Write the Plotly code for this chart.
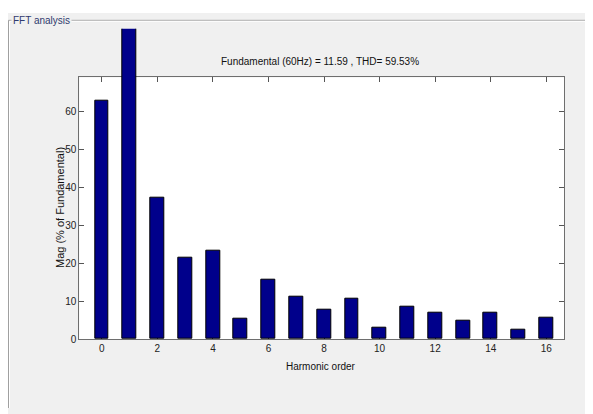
import plotly.graph_objects as go

# ---- data ----
harmonic_order = list(range(17))
mag_pct = [62.7, 100.0, 37.3, 21.5, 23.3, 5.3, 15.6, 11.2, 7.8, 10.7,
           3.0, 8.5, 7.0, 4.7, 7.0, 2.4, 5.7]
x_tick_vals = [0, 2, 4, 6, 8, 10, 12, 14, 16]
y_tick_vals = [0, 10, 20, 30, 40, 50, 60]
title_text = "Fundamental (60Hz) = 11.59 , THD= 59.53%"
panel_title = "FFT analysis"

# page has an 8px body margin: figure is sized/offset to compensate
OFF = 8
W, H = 593 - OFF, 414 - OFF
NARROW = "Liberation Sans Narrow, Arial Narrow, Liberation Sans, Arial, sans-serif"
REG = "Arial, Liberation Sans, sans-serif"
PANEL = "#f0f0f0"


def px(x):
    return (x - OFF) / W


def py(y):
    return 1 - (y - OFF) / H


# axes geometry (screen pixels)
ax_left, ax_right = 79.3, 564.3
ax_top, ax_bottom = 78.5, 344.0
clip_top = 29.0
y_max = 68.87

xd = [px(ax_left), px(ax_right)]
yd = [py(ax_bottom), py(ax_top)]
y2d = [yd[0], py(clip_top)]
y2_max = y_max * (y2d[1] - y2d[0]) / (yd[1] - yd[0])

fig = go.Figure()
# empty trace so the main (boxed) axes subplot exists
fig.add_trace(go.Scatter(x=[], y=[], xaxis="x", yaxis="y", showlegend=False,
                         hoverinfo="skip"))
fig.add_trace(go.Bar(
    x=harmonic_order, y=mag_pct, width=0.5,
    marker=dict(color="#00008b", line=dict(color="#000000", width=1)),
    xaxis="x", yaxis="y2", showlegend=False,
))

axis_common = dict(
    showline=True, linecolor="#6e6e6e", linewidth=1, mirror="ticks",
    ticks="inside", ticklen=5, tickcolor="#555555", tickwidth=1,
    showgrid=False, zeroline=False,
    tickfont=dict(family=NARROW, size=10, color="#222222"),
)

fig.update_layout(
    width=W, height=H,
    margin=dict(l=0, r=0, t=0, b=0),
    paper_bgcolor=PANEL, plot_bgcolor="rgba(0,0,0,0)",
    xaxis=dict(domain=xd, range=[-0.81, 16.65], anchor="y",
               tickmode="array", tickvals=x_tick_vals, **axis_common),
    yaxis=dict(domain=yd, range=[0, y_max], anchor="x",
               tickmode="array", tickvals=y_tick_vals, **axis_common),
    yaxis2=dict(domain=y2d, range=[0, y2_max], anchor="x", visible=False,
                showgrid=False, zeroline=False),
    bargap=0,
    shapes=[
        # white axes background
        dict(type="rect", xref="x domain", yref="y domain", x0=0, x1=1, y0=0, y1=1,
             fillcolor="white", line=dict(width=0), layer="below"),
        # white strip above the panel
        dict(type="rect", xref="paper", yref="paper", x0=0, x1=1,
             y0=py(13), y1=1, fillcolor="white", line=dict(width=0), layer="below"),
        # etched panel border
        dict(type="line", xref="paper", yref="paper", x0=px(8.5), x1=1,
             y0=py(20.5), y1=py(20.5), line=dict(color="#a0a0a0", width=1)),
        dict(type="line", xref="paper", yref="paper", x0=px(9.5), x1=1,
             y0=py(21.5), y1=py(21.5), line=dict(color="#ffffff", width=1)),
        dict(type="line", xref="paper", yref="paper", x0=px(8.5), x1=px(8.5),
             y0=0, y1=py(20.5), line=dict(color="#a0a0a0", width=1)),
        dict(type="line", xref="paper", yref="paper", x0=px(9.5), x1=px(9.5),
             y0=0, y1=py(21.5), line=dict(color="#ffffff", width=1)),
    ],
    annotations=[
        dict(text=panel_title, xref="paper", yref="paper", x=px(11), y=py(21),
             xanchor="left", yanchor="middle", showarrow=False, bgcolor=PANEL,
             borderpad=1, font=dict(family=NARROW, size=10, color="#2f3a6e")),
        dict(text=title_text, xref="paper", yref="paper", x=px(320.3), y=py(62),
             xanchor="center", yanchor="middle", showarrow=False,
             font=dict(family=NARROW, size=10, color="#111111")),
        dict(text="Harmonic order", xref="paper", yref="paper", x=px(320.7), y=py(371.7),
             xanchor="center", yanchor="middle", showarrow=False,
             font=dict(family=NARROW, size=10, color="#111111")),
        dict(text="Mag (% of Fundamental)", xref="paper", yref="paper", x=px(60), y=py(211),
             xanchor="center", yanchor="middle", showarrow=False, textangle=-90,
             font=dict(family=REG, size=11, color="#111111")),
    ],
)

fig.write_html("out.html")
